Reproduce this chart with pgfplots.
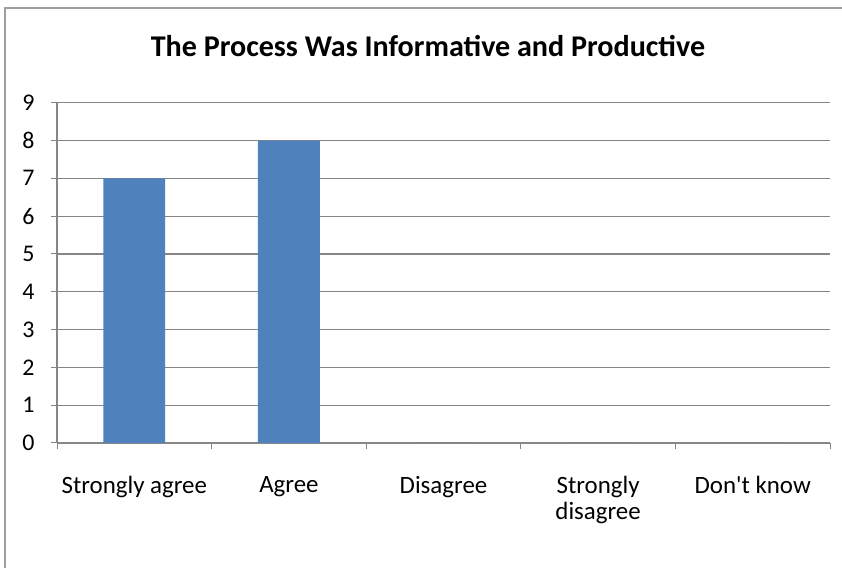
\documentclass[border=0pt]{standalone}
\usepackage{pgfplots}
\pgfplotsset{compat=1.18}
\usepackage{fontspec}
\setmainfont{Carlito}
\definecolor{barblue}{HTML}{4F81BD}
\definecolor{gridgray}{HTML}{868686}
\begin{document}
\begin{tikzpicture}[x=1bp,y=1bp]
\path[use as bounding box] (0,0) rectangle (842,568);
\draw[gridgray!80, line width=1.2bp] (5,0) -- (5,560) -- (842,560);
\node[anchor=base, font=\bfseries\fontsize{30.2}{33}\selectfont] at (428,511) {The Process Was Informative and Productive};
\begin{axis}[
  at={(57bp,125bp)}, anchor=south west,
  scale only axis, width=773bp, height=340.3bp,
  xmin=-0.5, xmax=4.5, ymin=0, ymax=9,
  axis x line=bottom, axis y line=left,
  axis line style={gridgray, line width=1.2bp, -},
  ytick={0,...,9},
  ymajorgrids, grid style={gridgray, line width=1.2bp},
  xtick={-0.5,0.5,1.5,2.5,3.5,4.5}, xticklabels={},
  extra x ticks={0,1,2,3,4},
  extra x tick labels={Strongly agree,Agree,Disagree,{Strongly\\disagree},Don\textquotesingle t know},
  extra x tick style={major tick length=0pt, grid=none},
  tick align=outside, major tick length=6bp,
  tick style={gridgray, line width=1bp},
  xticklabel style={font=\fontsize{25}{25.5}\selectfont, align=center, yshift=-30bp},
  yticklabel style={font=\fontsize{24}{24}\selectfont, xshift=-13bp},
  /pgf/number format/assume math mode=true,
  ybar, bar width=0.4,
]
\addplot[fill=barblue, draw=none] coordinates {(0,7) (1,8) (2,0) (3,0) (4,0)};
\end{axis}
\end{tikzpicture}
\end{document}
